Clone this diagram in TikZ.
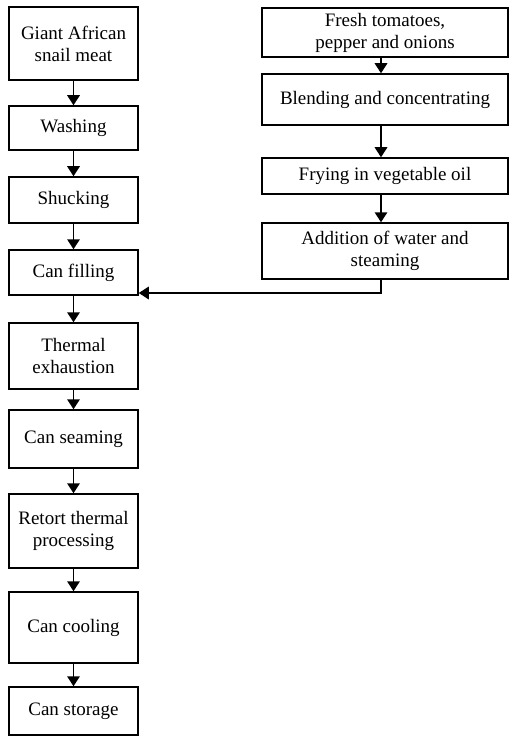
\documentclass[tikz,border=0pt]{standalone}
\usepackage{fontspec}
\setmainfont{Liberation Serif}
\usetikzlibrary{arrows.meta}
\begin{document}
\begin{tikzpicture}[x=1pt,y=-1pt,
  box/.style={draw,line width=1.5pt,align=center,inner sep=0pt,font=\fontsize{19}{22}\selectfont},
  lbox/.style={box,minimum width=129pt},
  rbox/.style={box,minimum width=246pt},
  arr/.style={line width=1.7pt,-{Triangle[length=10pt,width=12.5pt]}}]
\useasboundingbox (0,0) rectangle (509,738);
\node[lbox,minimum height=73pt] (b1) at (73.5,43.5) {Giant African\\snail meat};
\node[lbox,minimum height=44pt] (b2) at (73.5,128) {Washing};
\node[lbox,minimum height=46pt] (b3) at (73.5,200) {Shucking};
\node[lbox,minimum height=45pt] (b4) at (73.5,272.5) {Can filling};
\node[lbox,minimum height=66pt] (b5) at (73.5,356) {Thermal\\exhaustion};
\node[lbox,minimum height=58pt] (b6) at (73.5,439) {Can seaming};
\node[lbox,minimum height=74pt] (b7) at (73.5,531) {Retort thermal\\processing};
\node[lbox,minimum height=71pt] (b8) at (73.5,627.5) {Can cooling};
\node[lbox,minimum height=48pt] (b9) at (73.5,711) {Can storage};
\node[rbox,minimum height=49pt] (r1) at (385,32.5) {Fresh tomatoes,\\pepper and onions};
\node[rbox,minimum height=51pt] (r2) at (385,99.5) {Blending and concentrating};
\node[rbox,minimum height=36pt] (r3) at (385,176) {Frying in vegetable oil};
\node[rbox,minimum height=56pt] (r4) at (385,251) {Addition of water and\\steaming};
\foreach \a/\b in {b1/b2,b2/b3,b3/b4,b4/b5,b5/b6,b6/b7,b7/b8,b8/b9}
  \draw[arr] (\a.south) -- (\b.north);
\foreach \a/\b in {r1/r2,r2/r3,r3/r4}
  \draw[arr] ([xshift=-4pt]\a.south) -- ([xshift=-4pt]\b.north);
\draw[arr] ([xshift=-4pt]r4.south) |- ([yshift=-20.5pt]b4.east);
\end{tikzpicture}
\end{document}
